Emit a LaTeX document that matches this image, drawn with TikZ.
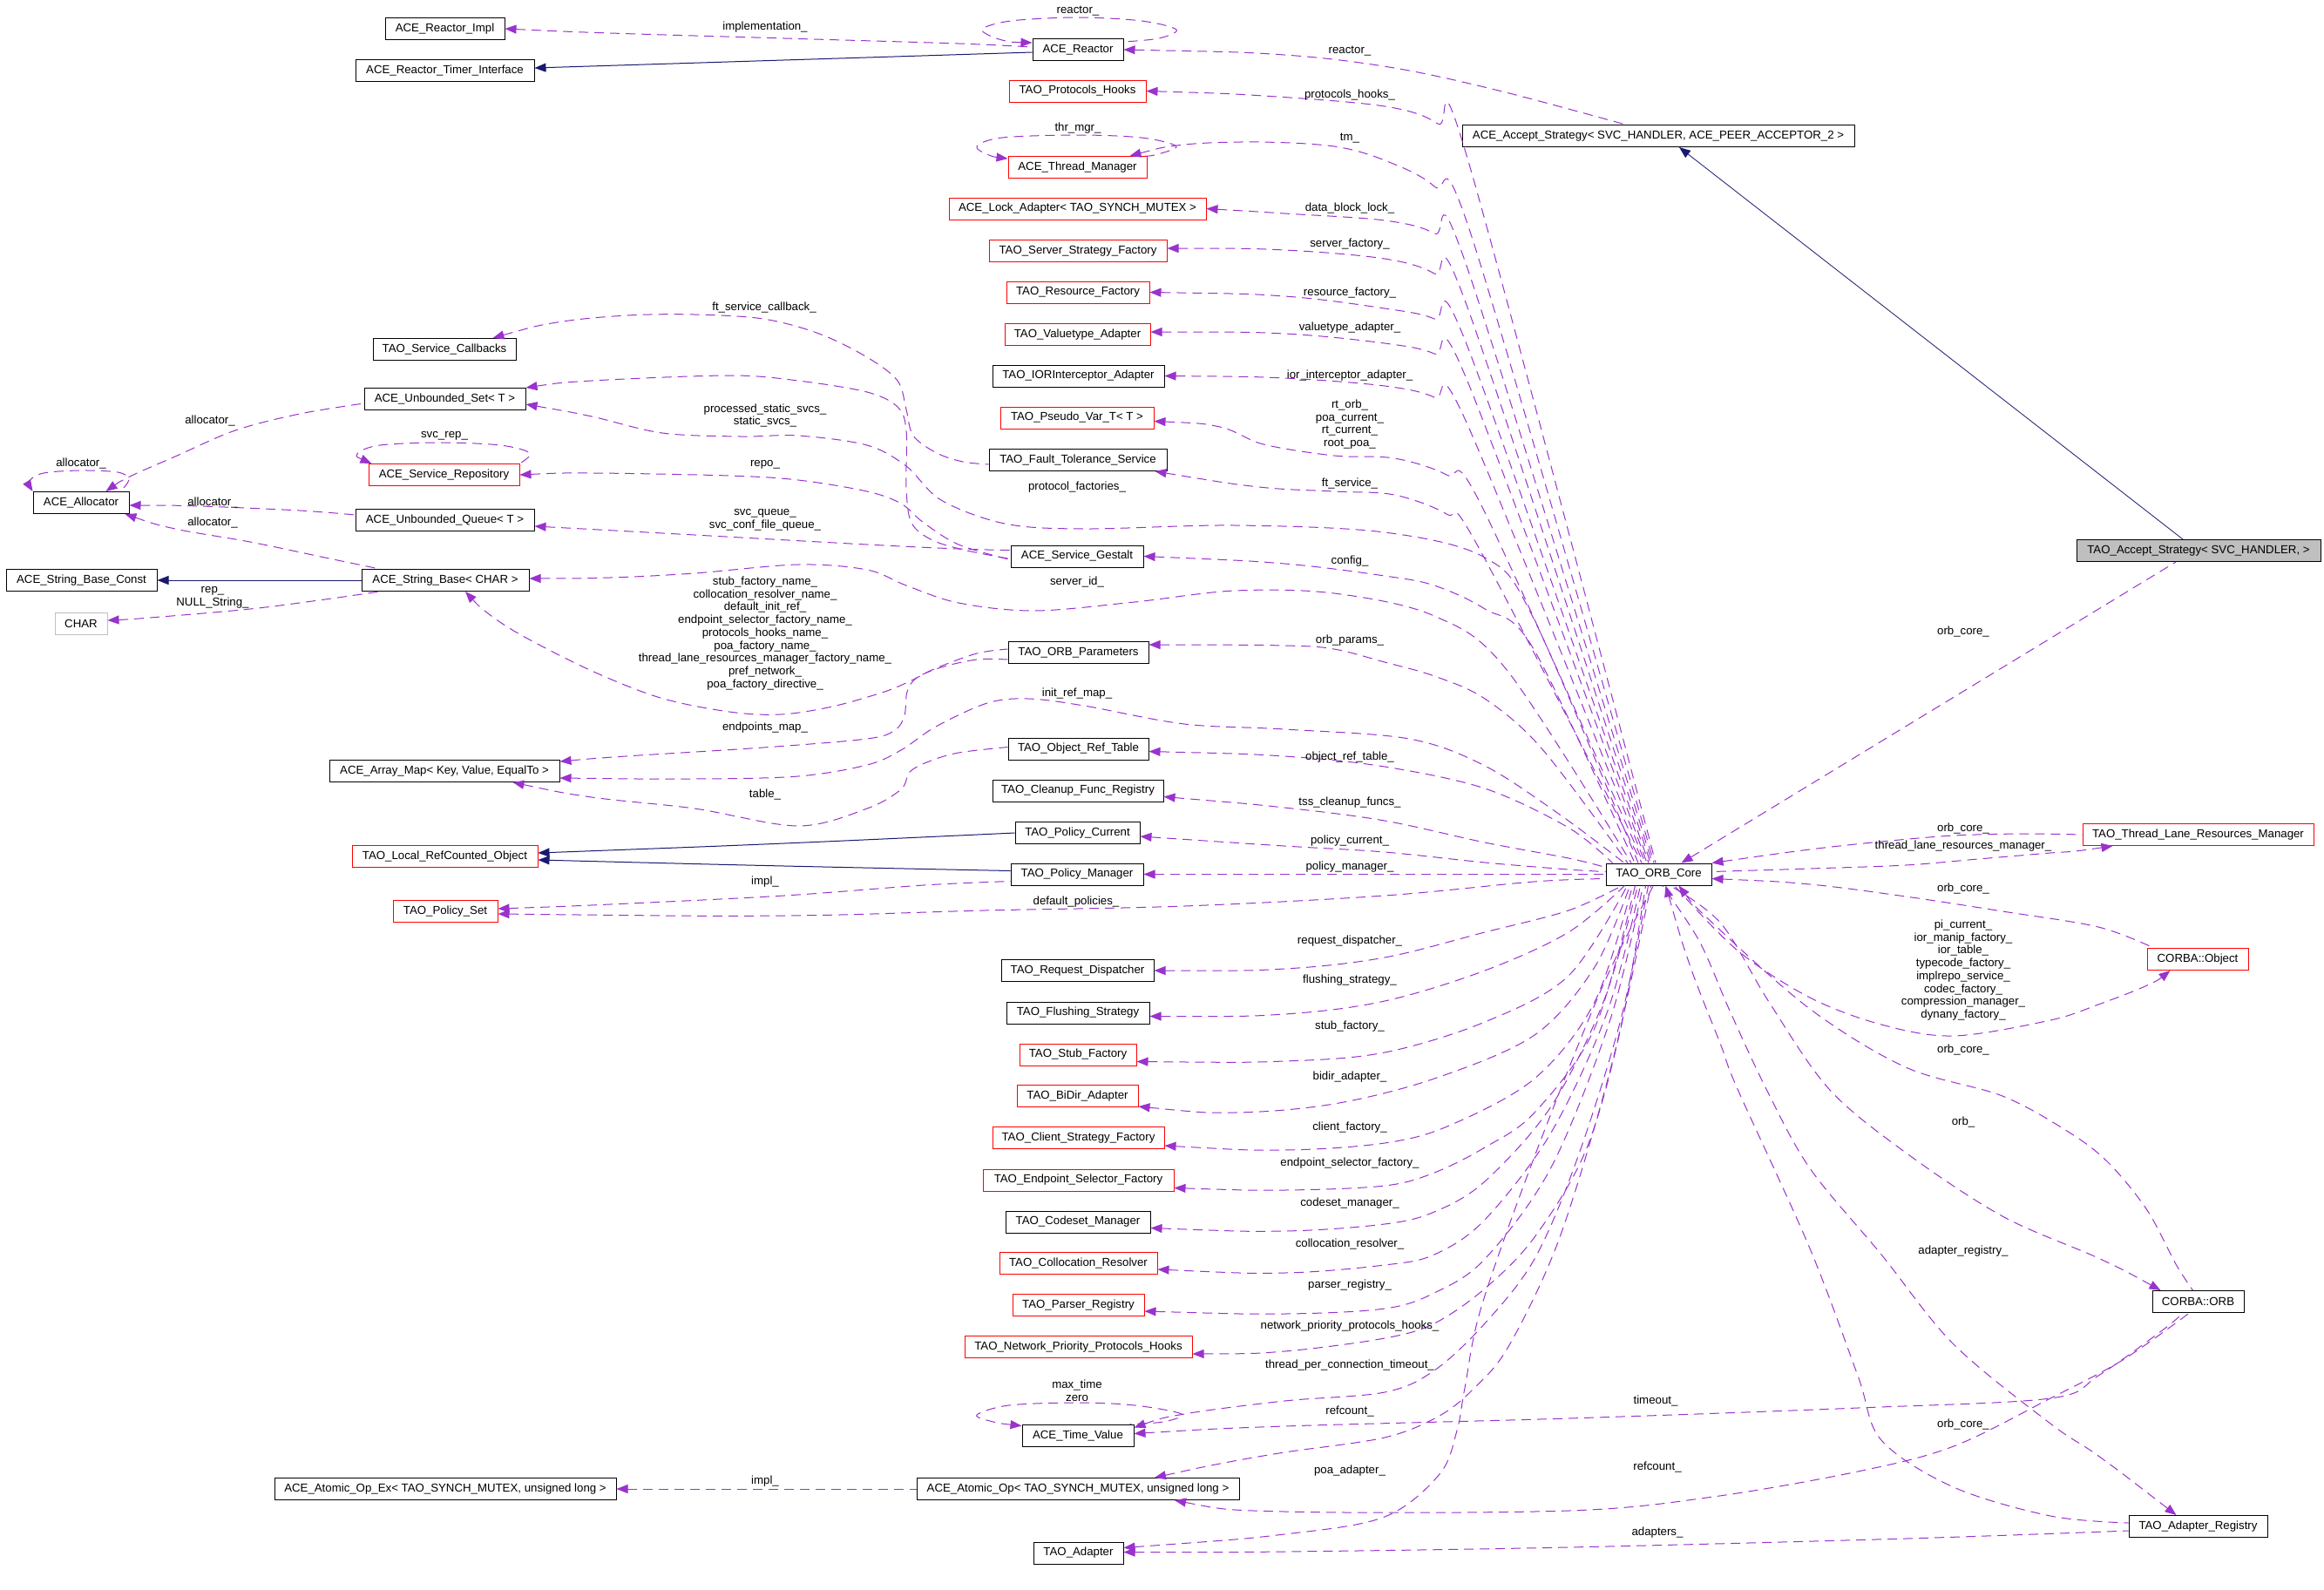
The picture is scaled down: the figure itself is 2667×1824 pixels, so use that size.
\documentclass[tikz,border=0pt]{standalone}
\usepackage{fontspec}
\setmainfont{Liberation Sans}
\usetikzlibrary{arrows.meta,calc}
\definecolor{depc}{HTML}{9A32CD}
\definecolor{inhc}{HTML}{191970}
\definecolor{boxgray}{HTML}{BFBFBF}
\begin{document}
\begin{tikzpicture}[x=1pt,y=-1pt,
  font=\fontsize{13.25}{14.75}\selectfont,
  box/.style={draw=black, line width=1pt, minimum height=25pt, inner sep=0pt, fill=white},
  rbox/.style={box, draw=red},
  lbl/.style={inner sep=0pt, align=center},
  dep/.style={draw=depc, line width=1pt, dash pattern=on 11pt off 7pt, {Triangle[length=13pt,width=10pt]}-},
  inh/.style={draw=inhc, line width=1pt, {Triangle[length=13pt,width=10pt]}-},
  sm/.style={smooth, tension=0.55}]
\fill[white] (0,0) rectangle (2667,1824);
\path[use as bounding box] (0,0) rectangle (2667,1824);

% ---- column 0
\node[box, minimum width=110pt] (alloc) at (93,577) {ACE\_Allocator};
\node[box, minimum width=173pt] (sbconst) at (93.5,666) {ACE\_String\_Base\_Const};
\node[box, draw=boxgray, minimum width=60pt] (charn) at (93,716) {CHAR};
% ---- column 1
\node[box, minimum width=137pt] (rimpl) at (510.5,33) {ACE\_Reactor\_Impl};
\node[box, minimum width=205pt] (rtimer) at (510.5,81) {ACE\_Reactor\_Timer\_Interface};
\node[box, minimum width=164pt] (svccb) at (510,401) {TAO\_Service\_Callbacks};
\node[box, minimum width=185pt] (uset) at (510.5,458) {ACE\_Unbounded\_Set< T >};
\node[rbox, minimum width=173pt] (srepo) at (509.5,545) {ACE\_Service\_Repository};
\node[box, minimum width=205pt] (uqueue) at (510.5,597) {ACE\_Unbounded\_Queue< T >};
\node[box, minimum width=192pt] (sbase) at (511,666) {ACE\_String\_Base< CHAR >};
\node[box, minimum width=264pt] (amap) at (510,885) {ACE\_Array\_Map< Key, Value, EqualTo >};
\node[rbox, minimum width=213pt] (lrco) at (510.5,983) {TAO\_Local\_RefCounted\_Object};
\node[rbox, minimum width=120pt] (pset) at (511,1046) {TAO\_Policy\_Set};
\node[box, minimum width=392pt] (aopex) at (511,1709) {ACE\_Atomic\_Op\_Ex< TAO\_SYNCH\_MUTEX, unsigned long >};
% ---- column 2
\node[box, minimum width=104pt] (reactor) at (1237,57) {ACE\_Reactor};
\node[rbox, minimum width=157pt] (phooks) at (1236.5,104.5) {TAO\_Protocols\_Hooks};
\node[rbox, minimum width=159pt] (thrmgr) at (1236.5,192) {ACE\_Thread\_Manager};
\node[rbox, minimum width=295pt] (lockad) at (1236.5,239.5) {ACE\_Lock\_Adapter< TAO\_SYNCH\_MUTEX >};
\node[rbox, minimum width=204pt] (ssf) at (1237,288) {TAO\_Server\_Strategy\_Factory};
\node[rbox, minimum width=164pt] (resf) at (1237,335.5) {TAO\_Resource\_Factory};
\node[rbox, minimum width=167pt] (vta) at (1236.5,384) {TAO\_Valuetype\_Adapter};
\node[box, minimum width=197pt] (iora) at (1237.5,431.5) {TAO\_IORInterceptor\_Adapter};
\node[rbox, minimum width=176pt] (pvar) at (1236,479.5) {TAO\_Pseudo\_Var\_T< T >};
\node[box, minimum width=204pt] (fts) at (1237,528) {TAO\_Fault\_Tolerance\_Service};
\node[box, minimum width=152pt] (gestalt) at (1236,638.5) {ACE\_Service\_Gestalt};
\node[box, minimum width=161pt] (orbp) at (1237.5,749) {TAO\_ORB\_Parameters};
\node[box, minimum width=161pt] (ort) at (1237.5,859.5) {TAO\_Object\_Ref\_Table};
\node[box, minimum width=196pt] (cfr) at (1237,907.5) {TAO\_Cleanup\_Func\_Registry};
\node[box, minimum width=143pt] (pcur) at (1236.5,956) {TAO\_Policy\_Current};
\node[box, minimum width=152pt] (pman) at (1236,1003.5) {TAO\_Policy\_Manager};
\node[box, minimum width=175pt] (rdisp) at (1236.5,1114) {TAO\_Request\_Dispatcher};
\node[box, minimum width=164pt] (flush) at (1237,1162.5) {TAO\_Flushing\_Strategy};
\node[rbox, minimum width=134pt] (stubf) at (1237,1210.5) {TAO\_Stub\_Factory};
\node[rbox, minimum width=139pt] (bidir) at (1236.5,1258) {TAO\_BiDir\_Adapter};
\node[rbox, minimum width=197pt] (csf) at (1237.5,1306) {TAO\_Client\_Strategy\_Factory};
\node[rbox, minimum width=219pt] (esf) at (1237.5,1354.5) {TAO\_Endpoint\_Selector\_Factory};
\node[box, minimum width=166pt] (csm) at (1237,1402.5) {TAO\_Codeset\_Manager};
\node[rbox, minimum width=181pt] (colres) at (1237.5,1450) {TAO\_Collocation\_Resolver};
\node[rbox, minimum width=151pt] (preg) at (1237.5,1498) {TAO\_Parser\_Registry};
\node[rbox, minimum width=261pt] (nph) at (1237.5,1546) {TAO\_Network\_Priority\_Protocols\_Hooks};
\node[box, minimum width=128pt] (tval) at (1237,1647.5) {ACE\_Time\_Value};
\node[box, minimum width=370pt] (aop) at (1237,1709) {ACE\_Atomic\_Op< TAO\_SYNCH\_MUTEX, unsigned long >};
\node[box, minimum width=103pt] (adapter) at (1237.5,1782.5) {TAO\_Adapter};
% ---- column 3
\node[box, minimum width=450pt] (aaccept) at (1903,156) {ACE\_Accept\_Strategy< SVC\_HANDLER, ACE\_PEER\_ACCEPTOR\_2 >};
\node[box, minimum width=121pt] (orb) at (1903.5,1003.5) {TAO\_ORB\_Core};
% ---- column 4
\node[box, fill=boxgray, minimum width=280pt] (taccept) at (2523,632) {TAO\_Accept\_Strategy< SVC\_HANDLER, >};
\node[rbox, minimum width=265pt] (tlrm) at (2522.5,958) {TAO\_Thread\_Lane\_Resources\_Manager};
\node[rbox, minimum width=116pt] (cobj) at (2522,1101) {CORBA::Object};
\node[box, minimum width=105pt] (corb) at (2522.5,1494) {CORBA::ORB};
\node[box, minimum width=159pt] (areg) at (2522.5,1752) {TAO\_Adapter\_Registry};

% ================= inheritance
\draw[inh] ($(rtimer.east)+(0,-3)$) -- ($(reactor.west)+(0,3)$);
\draw[inh] (sbconst.east) -- (sbase.west);
\draw[inh] plot[sm] coordinates {($(lrco.east)+(0,-4)$) (900,968) (pcur.west)};
\draw[inh] plot[sm] coordinates {($(lrco.east)+(0,4)$) (900,994) ($(pman.west)+(0,-4)$)};
\draw[inh, line width=0.8pt] ($(aaccept.south)+(24,0)$) -- ($(taccept.north)+(-18,0)$);

% ================= reactor area
\draw[dep] plot[sm] coordinates {(rimpl.east) (700,38) (900,44) (1100,50) ($(reactor.west)+(0,-3)$)};
\draw[dep] plot[sm] coordinates {($(reactor.west)+(0,-8)$) (1150,46) (1127,34) (1160,24) (1237,20) (1310,24) (1350,34) (1330,44) ($(reactor.north east)+(0,4)$)};
\draw[dep] plot[sm] coordinates {(reactor.east) (1474,63) (1600,78) (1720,104) ($(aaccept.north west)+(188,0)$)};
\draw[dep] ($(orb.north)+(26,0)$) -- ($(taccept.south)+(-26,0)$);

% ================= upper group (ORB core -> column 2)
\draw[dep] plot[sm] coordinates {(phooks.east) (1450,110) (1589,122) (1650,142) (1685,185) ($(orb.north)+(-3.5,0)$)};
\draw[dep] plot[sm] coordinates {($(thrmgr.north east)+(-20,0)$) (1359,166) (1445,163) (1531,168) (1589,184) (1646,214) (1690,275) ($(orb.north)+(-5.5,0)$)};
\draw[dep] plot[sm] coordinates {(lockad.east) (1474,245) (1589,253) (1646,268) (1683,305) ($(orb.north)+(-7.5,0)$)};
\draw[dep] plot[sm] coordinates {($(ssf.east)+(0,-3)$) (1474,287) (1589,297) (1646,314) (1683,350) ($(orb.north)+(-9.5,0)$)};
\draw[dep] plot[sm] coordinates {(resf.east) (1474,340) (1589,354) (1646,366) (1683,395) ($(orb.north)+(-11.5,0)$)};
\draw[dep] plot[sm] coordinates {($(vta.east)+(0,-3)$) (1474,383) (1589,394) (1646,406) (1683,435) ($(orb.north)+(-13.5,0)$)};
\draw[dep] plot[sm] coordinates {(iora.east) (1474,434) (1589,443) (1646,456) (1683,485) ($(orb.north)+(-15.5,0)$)};
\draw[dep] plot[sm] coordinates {($(pvar.east)+(0,4)$) (1400,490) (1450,510) (1531,523) (1600,526) (1660,545) (1700,580) ($(orb.north)+(-17.5,0)$)};
\draw[dep] plot[sm] coordinates {($(fts.south east)+(-14,0)$) (1445,559) (1531,564) (1600,568) (1660,590) (1695,625) ($(orb.north)+(-19.5,0)$)};
\draw[dep] plot[sm] coordinates {($(uset.east)+(0,6)$) (679,478) (760,497) (850,501) (916,500) (995,511) (1040,535) (1080,574) (1153,601) (1244,607) (1417,603) (1589,611) (1704,640) (1760,710) ($(orb.north)+(-23.5,0)$)};
\draw[dep] plot[sm] coordinates {(gestalt.east) (1474,647) (1589,661) (1646,672) (1704,699) (1760,745) ($(orb.north)+(-27.5,0)$)};
\draw[dep] plot[sm] coordinates {($(sbase.east)+(0,-2)$) (700,663) (797,658) (916,648) (995,654) (1040,672) (1100,692) (1187,701) (1302,691) (1417,678) (1531,681) (1646,707) (1730,770) ($(orb.north)+(-31.5,0)$)};
\draw[dep] plot[sm] coordinates {($(orbp.east)+(0,-9)$) (1474,741) (1531,745) (1589,760) (1646,776) (1704,802) (1770,860) ($(orb.north)+(-35.5,0)$)};
\draw[dep] plot[sm] coordinates {($(amap.east)+(0,8)$) (797,894) (916,891) (995,878) (1034,861) (1074,834) (1133,807) (1180,802) (1244,810) (1359,831) (1474,837) (1617,848) (1704,879) (1790,935) ($(orb.north)+(-39.5,0)$)};
\draw[dep] plot[sm] coordinates {($(ort.east)+(0,3)$) (1474,868) (1589,880) (1704,905) (1800,950) ($(orb.north west)+(8,0)$)};
\draw[dep] plot[sm] coordinates {($(cfr.east)+(0,7)$) (1474,927) (1589,942) (1704,967) (1800,985) ($(orb.west)+(0,-8)$)};
\draw[dep] plot[sm] coordinates {($(pcur.east)+(0,4)$) (1474,971) (1589,978) (1704,990) (1800,998) ($(orb.west)+(0,-3)$)};
\draw[dep] (pman.east) -- (orb.west);
\draw[dep] plot[sm] coordinates {($(pset.east)+(0,3)$) (900,1051) (1130,1045) (1359,1040) (1589,1028) (1760,1012) ($(orb.west)+(0,5)$)};

% ================= lower group
\draw[dep] plot[sm] coordinates {(rdisp.east) (1474,1112) (1589,1099) (1704,1070) (1800,1045) ($(orb.south)+(-42,0)$)};
\draw[dep] plot[sm] coordinates {($(flush.east)+(0,4)$) (1474,1164) (1589,1149) (1704,1114) (1800,1070) ($(orb.south)+(-39,0)$)};
\draw[dep] plot[sm] coordinates {($(stubf.east)+(0,8)$) (1474,1218) (1589,1208) (1704,1173) (1800,1120) ($(orb.south)+(-36,0)$)};
\draw[dep] plot[sm] coordinates {($(bidir.east)+(0,12)$) (1417,1277) (1531,1267) (1646,1238) (1761,1188) (1830,1110) ($(orb.south)+(-33,0)$)};
\draw[dep] plot[sm] coordinates {($(csf.east)+(0,9)$) (1474,1320) (1589,1312) (1663,1292) (1761,1238) (1830,1150) ($(orb.south)+(-30,0)$)};
\draw[dep] plot[sm] coordinates {($(esf.east)+(0,9)$) (1474,1366) (1589,1361) (1646,1346) (1704,1317) (1761,1277) (1830,1180) ($(orb.south)+(-27,0)$)};
\draw[dep] plot[sm] coordinates {($(csm.east)+(0,7)$) (1474,1413) (1589,1405) (1646,1391) (1704,1356) (1780,1270) (1840,1150) ($(orb.south)+(-24,0)$)};
\draw[dep] plot[sm] coordinates {($(colres.east)+(0,7)$) (1474,1461) (1589,1452) (1646,1440) (1704,1400) (1780,1300) (1845,1160) ($(orb.south)+(-21,0)$)};
\draw[dep] plot[sm] coordinates {($(preg.east)+(0,7)$) (1474,1508) (1589,1502) (1646,1484) (1704,1445) (1780,1340) (1848,1170) ($(orb.south)+(-18,0)$)};
\draw[dep] plot[sm] coordinates {($(nph.east)+(0,8)$) (1474,1551) (1589,1536) (1646,1519) (1704,1479) (1761,1420) (1820,1320) (1860,1180) ($(orb.south)+(-15,0)$)};
\draw[dep] plot[sm] coordinates {($(tval.east)+(0,-9)$) (1359,1623) (1474,1608) (1589,1598) (1646,1573) (1704,1519) (1761,1445) (1810,1330) (1860,1170) ($(orb.south)+(-12,0)$)};
\draw[dep] plot[sm] coordinates {($(aop.north)+(88,0)$) (1400,1680) (1474,1667) (1589,1650) (1652,1625) (1692,1593) (1732,1544) (1790,1420) (1850,1220) ($(orb.south)+(-9,0)$)};
\draw[dep] plot[sm] coordinates {($(adapter.east)+(0,-6)$) (1474,1761) (1589,1741) (1652,1692) (1672,1642) (1681,1593) (1700,1500) (1760,1330) (1840,1130) ($(orb.south)+(-6,0)$)};
\draw[dep] plot[sm] coordinates {($(tval.north west)+(0,2)$) (1140,1632) (1121,1624) (1158,1613) (1236,1610) (1302,1613) (1356,1623) (1335,1632) ($(tval.north east)+(-5,0)$)};
\draw[dep] (aopex.east) -- (aop.west);

% ================= column 1 internal
\draw[dep] plot[sm] coordinates {($(pset.east)+(0,-3)$) (700,1038) (900,1028) (1060,1016) ($(pman.west)+(0,8)$)};
\draw[dep] plot[sm] coordinates {($(amap.south east)+(-54,0)$) (679,915) (797,928) (916,948) (995,928) (1034,906) (1044,886) (1066,874) (1100,864) ($(ort.west)+(0,-2)$)};
\draw[dep] plot[sm] coordinates {($(amap.east)+(0,-11)$) (718,868) (876,858) (995,848) (1027,838) (1038,821) (1041,794) (1052,778) (1080,766) (1121,757) ($(orbp.west)+(0,8)$)};
\draw[dep] plot[sm] coordinates {($(sbase.south)+(23,0)$) (560,704) (600,730) (679,770) (758,801) (837,817) (896,820) (955,811) (1015,794) (1046,781) (1074,767) (1121,750) ($(orbp.west)+(0,-4)$)};
\draw[dep] plot[sm] coordinates {($(uset.east)+(0,-13)$) (679,437) (837,431) (916,437) (995,450) (1030,467) (1040,494) (1040,560) (1046,600) (1070,620) (1110,632) ($(gestalt.west)+(0,3)$)};
\draw[dep] plot[sm] coordinates {(srepo.east) (679,543) (837,546) (916,551) (995,564) (1034,578) (1060,600) (1100,625) ($(gestalt.west)+(0,4)$)};
\draw[dep] plot[sm] coordinates {($(uqueue.east)+(0,7)$) (797,614) (995,625) (1100,630) ($(gestalt.west)+(0,-7)$)};
\draw[dep] plot[sm] coordinates {($(svccb.north east)+(-27,0)$) (639,370) (720,362) (797,361) (876,366) (940,383) (995,410) (1030,437) (1040,470) (1048,500) (1075,520) (1105,530) ($(fts.west)+(0,5)$)};

% ================= column 0
\draw[dep] plot[sm] coordinates {($(alloc.north east)+(-27,0)$) (149,547) (201,524) (270,494) (344,475) ($(uset.west)+(0,5)$)};
\draw[dep] plot[sm] coordinates {($(alloc.east)+(0,3)$) (230,581) (344,586) ($(uqueue.west)+(0,-6)$)};
\draw[dep] plot[sm] coordinates {($(alloc.south east)+(-5,0)$) (201,607) (287,622) (373,640) ($(sbase.north west)+(21,0)$)};
\draw[dep] plot[sm] coordinates {($(charn.east)+(0,-4)$) (172,709) (287,699) (373,688) ($(sbase.south west)+(21,0)$)};
\draw[dep] plot[sm] coordinates {(alloc.north west) (34,552) (50,543) (93,540) (135,542) (148,550) ($(alloc.north east)+(-10,0)$)};
\draw[dep] plot[sm] coordinates {($(srepo.north west)+(4,0)$) (410,521) (436,511) (505,508) (574,511) (608,520) (srepo.north east)};
\draw[dep] plot[sm] coordinates {($(thrmgr.north west)+(0,3)$) (1135,178) (1121,168) (1150,158) (1236,155) (1310,158) (1350,168) (1325,178) ($(thrmgr.north east)+(-4,0)$)};

% ================= column 4
\draw[dep] plot[sm] coordinates {(orb.north east) (2077,975) (2159,966) (2242,959) (2325,957) (tlrm.west)};
\draw[dep] plot[sm] coordinates {($(tlrm.south west)+(35,0)$) (2381,977) (2353,979) (2270,986) (2187,993) (2077,997) ($(orb.east)+(0,-3)$)};
\draw[dep] plot[sm] coordinates {($(orb.east)+(0,5)$) (2077,1015) (2187,1029) (2298,1046) (2408,1064) ($(cobj.north west)+(8,0)$)};
\draw[dep] plot[sm] coordinates {($(cobj.south west)+(27,0)$) (2464,1131) (2408,1153) (2353,1171) (2242,1189) (2159,1176) (2077,1145) (1994,1091) ($(orb.south)+(18,0)$)};
\draw[dep] plot[sm] coordinates {($(orb.south)+(23,0)$) (1966,1060) (2077,1158) (2187,1225) (2298,1258) (2375,1300) (2420,1335) (2464,1389) (2497,1451) ($(corb.north)+(-6,0)$)};
\draw[dep] plot[sm] coordinates {($(corb.north west)+(10,0)$) (2408,1444) (2298,1396) (2187,1323) (2099,1250) (2030,1150) (1975,1060) ($(orb.south)+(13,0)$)};
\draw[dep] plot[sm] coordinates {($(areg.north)+(-25,0)$) (2408,1671) (2353,1634) (2242,1543) (2159,1440) (2077,1341) (2027,1250) (1985,1160) (1950,1080) ($(orb.south)+(4,0)$)};
\draw[dep] plot[sm] coordinates {($(orb.south)+(8,0)$) (1940,1110) (1975,1200) (1994,1250) (2077,1433) (2132,1579) (2159,1653) (2242,1707) (2353,1740) ($(areg.west)+(0,-4)$)};
\draw[dep] plot[sm] coordinates {($(tval.east)+(0,-2)$) (1474,1637) (1800,1628) (2132,1616) (2353,1605) (2408,1579) (2480,1528) ($(corb.south)+(-17,0)$)};
\draw[dep] plot[sm] coordinates {($(aop.south)+(111,0)$) (1474,1735) (1800,1734) (1966,1718) (2132,1689) (2242,1660) (2353,1605) (2436,1561) ($(corb.south)+(-10,0)$)};
\draw[dep] plot[sm] coordinates {($(adapter.east)+(0,-1)$) (1474,1781) (1800,1776) (2187,1766) ($(areg.west)+(0,5)$)};

% ================= labels
\node[lbl] (lb1) at (878,31) {implementation\_};
\node[lbl] (lb2) at (1237,13) {reactor\_};
\node[lbl] (lb3) at (1549,59) {reactor\_};
\node[lbl] (lb4) at (1549,109) {protocols\_hooks\_};
\node[lbl] (lb5) at (1237,147) {thr\_mgr\_};
\node[lbl] (lb6) at (1549,159) {tm\_};
\node[lbl] (lb7) at (1549,239) {data\_block\_lock\_};
\node[lbl] (lb8) at (1549,280) {server\_factory\_};
\node[lbl] (lb9) at (1549,336) {resource\_factory\_};
\node[lbl] (lb10) at (1549,376) {valuetype\_adapter\_};
\node[lbl] (lb11) at (1549,431) {ior\_interceptor\_adapter\_};
\node[lbl] (lb12) at (1549,487) {rt\_orb\_\\poa\_current\_\\rt\_current\_\\root\_poa\_};
\node[lbl] (lb13) at (1549,555) {ft\_service\_};
\node[lbl] (lb14) at (877,353) {ft\_service\_callback\_};
\node[lbl] (lb15) at (878,477) {processed\_static\_svcs\_\\static\_svcs\_};
\node[lbl] (lb16) at (878,533) {repo\_};
\node[lbl] (lb17) at (878,597) {svc\_queue\_\\svc\_conf\_file\_queue\_};
\node[lbl] (lb18) at (1236,559) {protocol\_factories\_};
\node[lbl] (lb19) at (1549,644) {config\_};
\node[lbl] (lb20) at (1236,668) {server\_id\_};
\node[lbl] (lb21) at (878,727) {stub\_factory\_name\_\\collocation\_resolver\_name\_\\default\_init\_ref\_\\endpoint\_selector\_factory\_name\_\\protocols\_hooks\_name\_\\poa\_factory\_name\_\\thread\_lane\_resources\_manager\_factory\_name\_\\pref\_network\_\\poa\_factory\_directive\_};
\node[lbl] (lb22) at (1549,735) {orb\_params\_};
\node[lbl] (lb23) at (1236,796) {init\_ref\_map\_};
\node[lbl] (lb24) at (878,835) {endpoints\_map\_};
\node[lbl] (lb25) at (1549,869) {object\_ref\_table\_};
\node[lbl] (lb26) at (878,912) {table\_};
\node[lbl] (lb27) at (1549,921) {tss\_cleanup\_funcs\_};
\node[lbl] (lb28) at (1549,965) {policy\_current\_};
\node[lbl] (lb29) at (1549,995) {policy\_manager\_};
\node[lbl] (lb30) at (878,1012) {impl\_};
\node[lbl] (lb31) at (1235,1035) {default\_policies\_};
\node[lbl] (lb32) at (1549,1080) {request\_dispatcher\_};
\node[lbl] (lb33) at (1549,1125) {flushing\_strategy\_};
\node[lbl] (lb34) at (1549,1178) {stub\_factory\_};
\node[lbl] (lb35) at (1549,1236) {bidir\_adapter\_};
\node[lbl] (lb36) at (1549,1294) {client\_factory\_};
\node[lbl] (lb37) at (1549,1335) {endpoint\_selector\_factory\_};
\node[lbl] (lb38) at (1549,1381) {codeset\_manager\_};
\node[lbl] (lb39) at (1549,1428) {collocation\_resolver\_};
\node[lbl] (lb40) at (1549,1475) {parser\_registry\_};
\node[lbl] (lb41) at (1549,1522) {network\_priority\_protocols\_hooks\_};
\node[lbl] (lb42) at (1549,1567) {thread\_per\_connection\_timeout\_};
\node[lbl] (lb43) at (1236,1596) {max\_time\\zero};
\node[lbl] (lb44) at (1549,1620) {refcount\_};
\node[lbl] (lb45) at (1549,1688) {poa\_adapter\_};
\node[lbl] (lb46) at (878,1700) {impl\_};
\node[lbl] (lb47) at (93,532) {allocator\_};
\node[lbl] (lb48) at (241,483) {allocator\_};
\node[lbl] (lb49) at (510,500) {svc\_rep\_};
\node[lbl] (lb50) at (244,577) {allocator\_};
\node[lbl] (lb51) at (244,600) {allocator\_};
\node[lbl] (lb52) at (244,686) {rep\_\\NULL\_String\_};
\node[lbl] (lb53) at (2253,725) {orb\_core\_};
\node[lbl] (lb54) at (2253,951) {orb\_core\_};
\node[lbl] (lb55) at (2253,971) {thread\_lane\_resources\_manager\_};
\node[lbl] (lb56) at (2253,1020) {orb\_core\_};
\node[lbl] (lb57) at (2253,1113.5) {pi\_current\_\\ior\_manip\_factory\_\\ior\_table\_\\typecode\_factory\_\\implrepo\_service\_\\codec\_factory\_\\compression\_manager\_\\dynany\_factory\_};
\node[lbl] (lb58) at (2253,1205) {orb\_core\_};
\node[lbl] (lb59) at (2253,1288) {orb\_};
\node[lbl] (lb60) at (2253,1436) {adapter\_registry\_};
\node[lbl] (lb61) at (2253,1635) {orb\_core\_};
\node[lbl] (lb62) at (1900,1608) {timeout\_};
\node[lbl] (lb63) at (1902,1684) {refcount\_};
\node[lbl] (lb64) at (1902,1759) {adapters\_};
\end{tikzpicture}
\end{document}
